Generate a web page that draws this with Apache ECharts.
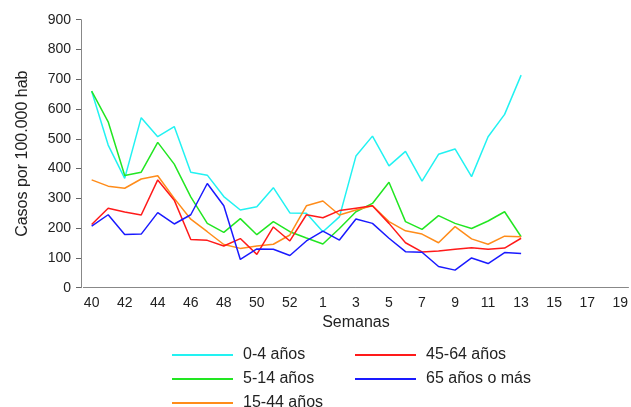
<!DOCTYPE html>
<html>
<head>
<meta charset="utf-8">
<script src="https://cdn.jsdelivr.net/npm/echarts@6/dist/echarts.min.js"></script>
<style>
  html, body { margin: 0; padding: 0; background: #fff; }
  #chart { width: 631px; height: 407px; }
</style>
</head>
<body>
<div id="chart"></div>
<script>
// semanas 40..53 y 1..19
var semanas = ['40','41','42','43','44','45','46','47','48','49','50','51','52','53',
  '1','2','3','4','5','6','7','8','9','10','11','12','13','14','15','16','17','18','19'];

var edad0a4 = [660, 479, 367, 571, 507, 541, 388, 378, 306, 261, 272, 336, 251, 250,
  188, 238, 442, 509, 409, 458, 358, 448, 466, 373, 507, 582, 714];
var edad5a14 = [660, 557, 377, 388, 488, 415, 305, 216, 186, 232, 178, 222, 188, 167,
  147, 199, 255, 283, 354, 222, 196, 242, 216, 199, 224, 255, 171];
var edad15a44 = [362, 341, 334, 365, 376, 300, 230, 188, 145, 132, 140, 146, 177, 275,
  291, 244, 261, 275, 222, 191, 180, 151, 205, 164, 146, 173, 171];
var edad45a64 = [212, 267, 254, 244, 362, 294, 162, 159, 140, 165, 112, 204, 157, 245,
  235, 259, 267, 275, 216, 151, 120, 123, 129, 134, 129, 133, 166];
var edad65mas = [207, 245, 179, 180, 252, 214, 245, 350, 275, 95, 130, 129, 108, 157,
  190, 160, 231, 216, 166, 121, 119, 71, 59, 100, 81, 118, 115];

var fuente = 'Liberation Sans, Arial, sans-serif';
var chart = echarts.init(document.getElementById('chart'));

function linea(nombre, datos, color) {
  return {
    name: nombre,
    type: 'line',
    data: datos,
    showSymbol: false,
    symbol: 'none',
    lineStyle: { color: color, width: 1.5 },
    itemStyle: { color: color },
    animation: false
  };
}

var legendaBase = {
  orient: 'vertical',
  top: 347,
  height: 90,
  padding: 0,
  icon: 'rect',
  itemWidth: 61,
  itemHeight: 2,
  itemGap: 8,
  textStyle: { fontFamily: fuente, fontSize: 16, color: '#222', lineHeight: 16, padding: [0, 0, 0, 5] }
};

var option = {
  backgroundColor: '#fff',
  textStyle: { fontFamily: fuente },
  grid: { left: 83.4, right: 1.7, top: 19.7, bottom: 119.3 },
  legend: [
    Object.assign({}, legendaBase, { left: 172, data: ['0-4 años', '5-14 años', '15-44 años'] }),
    Object.assign({}, legendaBase, { left: 355, data: ['45-64 años', '65 años o más'] })
  ],
  xAxis: {
    type: 'category',
    data: semanas,
    boundaryGap: true,
    name: 'Semanas',
    nameLocation: 'middle',
    nameGap: 25,
    nameTextStyle: { fontFamily: fuente, fontSize: 16, color: '#222' },
    axisLine: { lineStyle: { color: '#888', width: 1 } },
    axisTick: { interval: 1, alignWithLabel: true, length: 5, lineStyle: { color: '#666' } },
    axisLabel: { interval: 1, margin: 8, fontFamily: fuente, fontSize: 14, color: '#222' },
    splitLine: { show: false }
  },
  yAxis: {
    type: 'value',
    min: 0,
    max: 900,
    interval: 100,
    offset: 2.4,
    name: 'Casos por 100.000 hab',
    nameLocation: 'middle',
    nameGap: 50,
    nameTextStyle: { fontFamily: fuente, fontSize: 16, color: '#222' },
    axisLine: { show: true, lineStyle: { color: '#888', width: 1 } },
    axisTick: { show: true, length: 5, lineStyle: { color: '#666' } },
    axisLabel: { margin: 10, fontFamily: fuente, fontSize: 14, color: '#222' },
    splitLine: { show: false }
  },
  series: [
    linea('0-4 años', edad0a4, '#22f2f2'),
    linea('5-14 años', edad5a14, '#22e622'),
    linea('15-44 años', edad15a44, '#ff8c1a'),
    linea('45-64 años', edad45a64, '#ff1a1a'),
    linea('65 años o más', edad65mas, '#1a1aff')
  ]
};

chart.setOption(option);
</script>
</body>
</html>
